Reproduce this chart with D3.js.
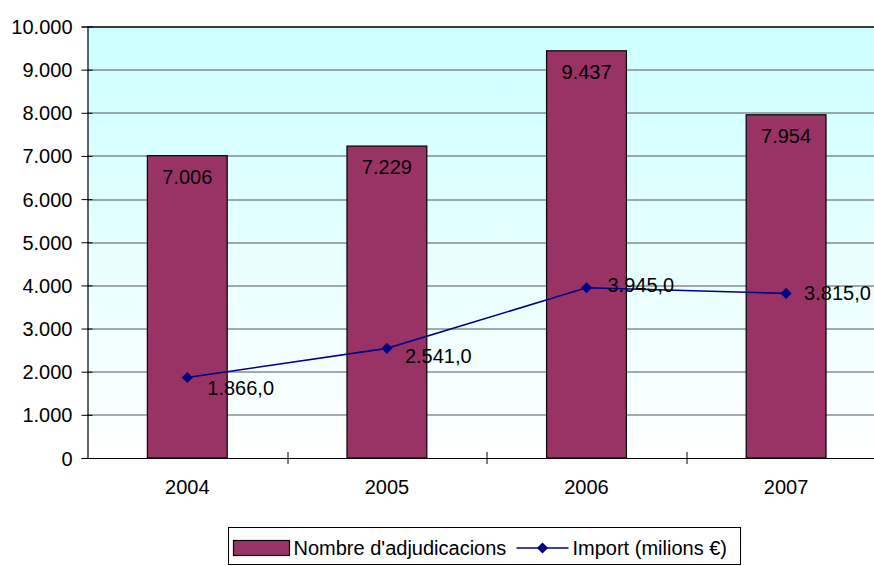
<!DOCTYPE html>
<html lang="ca">
<head>
    <meta charset="UTF-8">
    <title>Adjudicacions</title>
    <script src="https://d3js.org/d3.v7.min.js"></script>
    <style>
        body { margin: 0; background: #fff; }
        text { font-family: "Liberation Sans", Arial, sans-serif; fill: #000; }
    </style>
</head>
<body>
<div id="chart"></div>
<script>
    // data
    var years = ["2004", "2005", "2006", "2007"];
    var adjudicacions = [7006, 7229, 9437, 7954];
    var importMilions = [1866.0, 2541.0, 3945.0, 3815.0];
    var yTicks = [0, 1000, 2000, 3000, 4000, 5000, 6000, 7000, 8000, 9000, 10000];

    // little shifts of the line labels (dx, dy), as the picture has them
    var lineLabelNudge = [[20, 11], [18, 8], [21, -3], [18, 0]];

    var ca = d3.formatLocale({decimal: ",", thousands: ".", grouping: [3], currency: ["", " €"]});
    var fmtInt = ca.format(",.0f");
    var fmtDec = ca.format(",.1f");

    var W = 874, H = 566;
    var margin = {top: 26.5, left: 87.5, bottom: 108};
    var plotW = 4 * 199.6;
    var plotH = H - margin.top - margin.bottom;

    var svg = d3.select("#chart").append("svg")
        .attr("width", W)
        .attr("height", H);

    var defs = svg.append("defs");
    var grad = defs.append("linearGradient")
        .attr("id", "bg").attr("x1", 0).attr("y1", 0).attr("x2", 0).attr("y2", 1);
    grad.append("stop").attr("offset", "0%").attr("stop-color", "#CCFFFF");
    grad.append("stop").attr("offset", "100%").attr("stop-color", "#FFFFFF");

    var g = svg.append("g")
        .attr("transform", "translate(" + margin.left + "," + margin.top + ")");

    var x = d3.scaleBand()
        .domain(years)
        .range([0, plotW]);

    var y = d3.scaleLinear()
        .domain([0, 10000])
        .range([plotH, 0]);

    // plot background
    g.append("rect")
        .attr("x", 0).attr("y", 0)
        .attr("width", plotW).attr("height", plotH)
        .attr("fill", "url(#bg)");

    // gridlines
    g.selectAll(".grid")
        .data(yTicks.slice(1))
        .enter().append("line")
        .attr("x1", 0).attr("x2", plotW)
        .attr("y1", function(d) { return Math.round(y(d)) + 0.5; })
        .attr("y2", function(d) { return Math.round(y(d)) + 0.5; })
        .attr("stroke", function(d) { return d === 10000 ? "#000" : "#555"; })
        .attr("stroke-width", function(d) { return d === 10000 ? 1.3 : 1; });

    // bars
    var barW = x.bandwidth() * 0.4;
    g.selectAll(".bar")
        .data(adjudicacions)
        .enter().append("rect")
        .attr("x", function(d, i) { return x(years[i]) + x.bandwidth() / 2 - barW / 2; })
        .attr("y", function(d) { return y(d); })
        .attr("width", barW)
        .attr("height", function(d) { return plotH - y(d); })
        .attr("fill", "#993366")
        .attr("stroke", "#000")
        .attr("stroke-width", 1.2);

    g.selectAll(".barlabel")
        .data(adjudicacions)
        .enter().append("text")
        .attr("x", function(d, i) { return x(years[i]) + x.bandwidth() / 2; })
        .attr("y", function(d) { return y(d) + 28; })
        .attr("text-anchor", "middle")
        .style("font-size", "20px")
        .text(function(d) { return fmtInt(d); });

    // y axis
    var yAxis = g.append("g")
        .call(d3.axisLeft(y).tickValues(yTicks).tickSize(6).tickPadding(10)
            .tickFormat(function(d) { return fmtInt(d); }));
    yAxis.select(".domain").attr("stroke", "#000").attr("stroke-width", 1.2);
    yAxis.selectAll(".tick line").attr("x1", 5).attr("stroke", "#000");
    yAxis.selectAll(".tick text")
        .style("font-size", "20px")
        .attr("dy", "0.35em")
        .attr("x", -15);

    // x axis
    var xAxis = g.append("g")
        .attr("transform", "translate(0," + plotH + ")")
        .call(d3.axisBottom(x).tickSize(0).tickPadding(22));
    xAxis.select(".domain").attr("stroke", "#000").attr("stroke-width", 1.2);
    xAxis.selectAll(".tick text").style("font-size", "20px");
    xAxis.selectAll(".sep")
        .data(years)
        .enter().append("line")
        .attr("x1", function(d) { return Math.round(x(d) + x.bandwidth()) + 0.5; })
        .attr("x2", function(d) { return Math.round(x(d) + x.bandwidth()) + 0.5; })
        .attr("y1", -6).attr("y2", 6)
        .attr("stroke", "#000");

    // line series
    var line = d3.line()
        .x(function(d, i) { return x(years[i]) + x.bandwidth() / 2; })
        .y(function(d) { return y(d); });

    g.append("path")
        .datum(importMilions)
        .attr("d", line)
        .attr("fill", "none")
        .attr("stroke", "#000080")
        .attr("stroke-width", 1.6);

    var diamond = d3.symbol().type(d3.symbolDiamond2).size(80);
    g.selectAll(".pt")
        .data(importMilions)
        .enter().append("path")
        .attr("d", diamond)
        .attr("transform", function(d, i) {
            return "translate(" + (x(years[i]) + x.bandwidth() / 2) + "," + y(d) + ")";
        })
        .attr("fill", "#000080");

    g.selectAll(".linelabel")
        .data(importMilions)
        .enter().append("text")
        .attr("x", function(d, i) { return x(years[i]) + x.bandwidth() / 2 + lineLabelNudge[i][0]; })
        .attr("y", function(d, i) { return y(d) + lineLabelNudge[i][1]; })
        .attr("dy", "0.35em")
        .style("font-size", "20px")
        .text(function(d) { return fmtDec(d); });

    // legend
    var lg = svg.append("g").attr("transform", "translate(228.5,527.5)");
    lg.append("rect")
        .attr("width", 512).attr("height", 37)
        .attr("fill", "#fff").attr("stroke", "#000").attr("stroke-width", 1);
    lg.append("rect")
        .attr("x", 5).attr("y", 13).attr("width", 56).attr("height", 15)
        .attr("fill", "#993366").attr("stroke", "#000").attr("stroke-width", 1.2);
    lg.append("text")
        .attr("x", 65).attr("y", 20.5).attr("dy", "0.35em")
        .style("font-size", "20px")
        .text("Nombre d'adjudicacions");
    lg.append("line")
        .attr("x1", 288).attr("x2", 340).attr("y1", 20.5).attr("y2", 20.5)
        .attr("stroke", "#000080").attr("stroke-width", 1.6);
    lg.append("path")
        .attr("d", diamond)
        .attr("transform", "translate(314,20.5)")
        .attr("fill", "#000080");
    lg.append("text")
        .attr("x", 344).attr("y", 20.5).attr("dy", "0.35em")
        .style("font-size", "20px")
        .text("Import (milions €)");
</script>
</body>
</html>
